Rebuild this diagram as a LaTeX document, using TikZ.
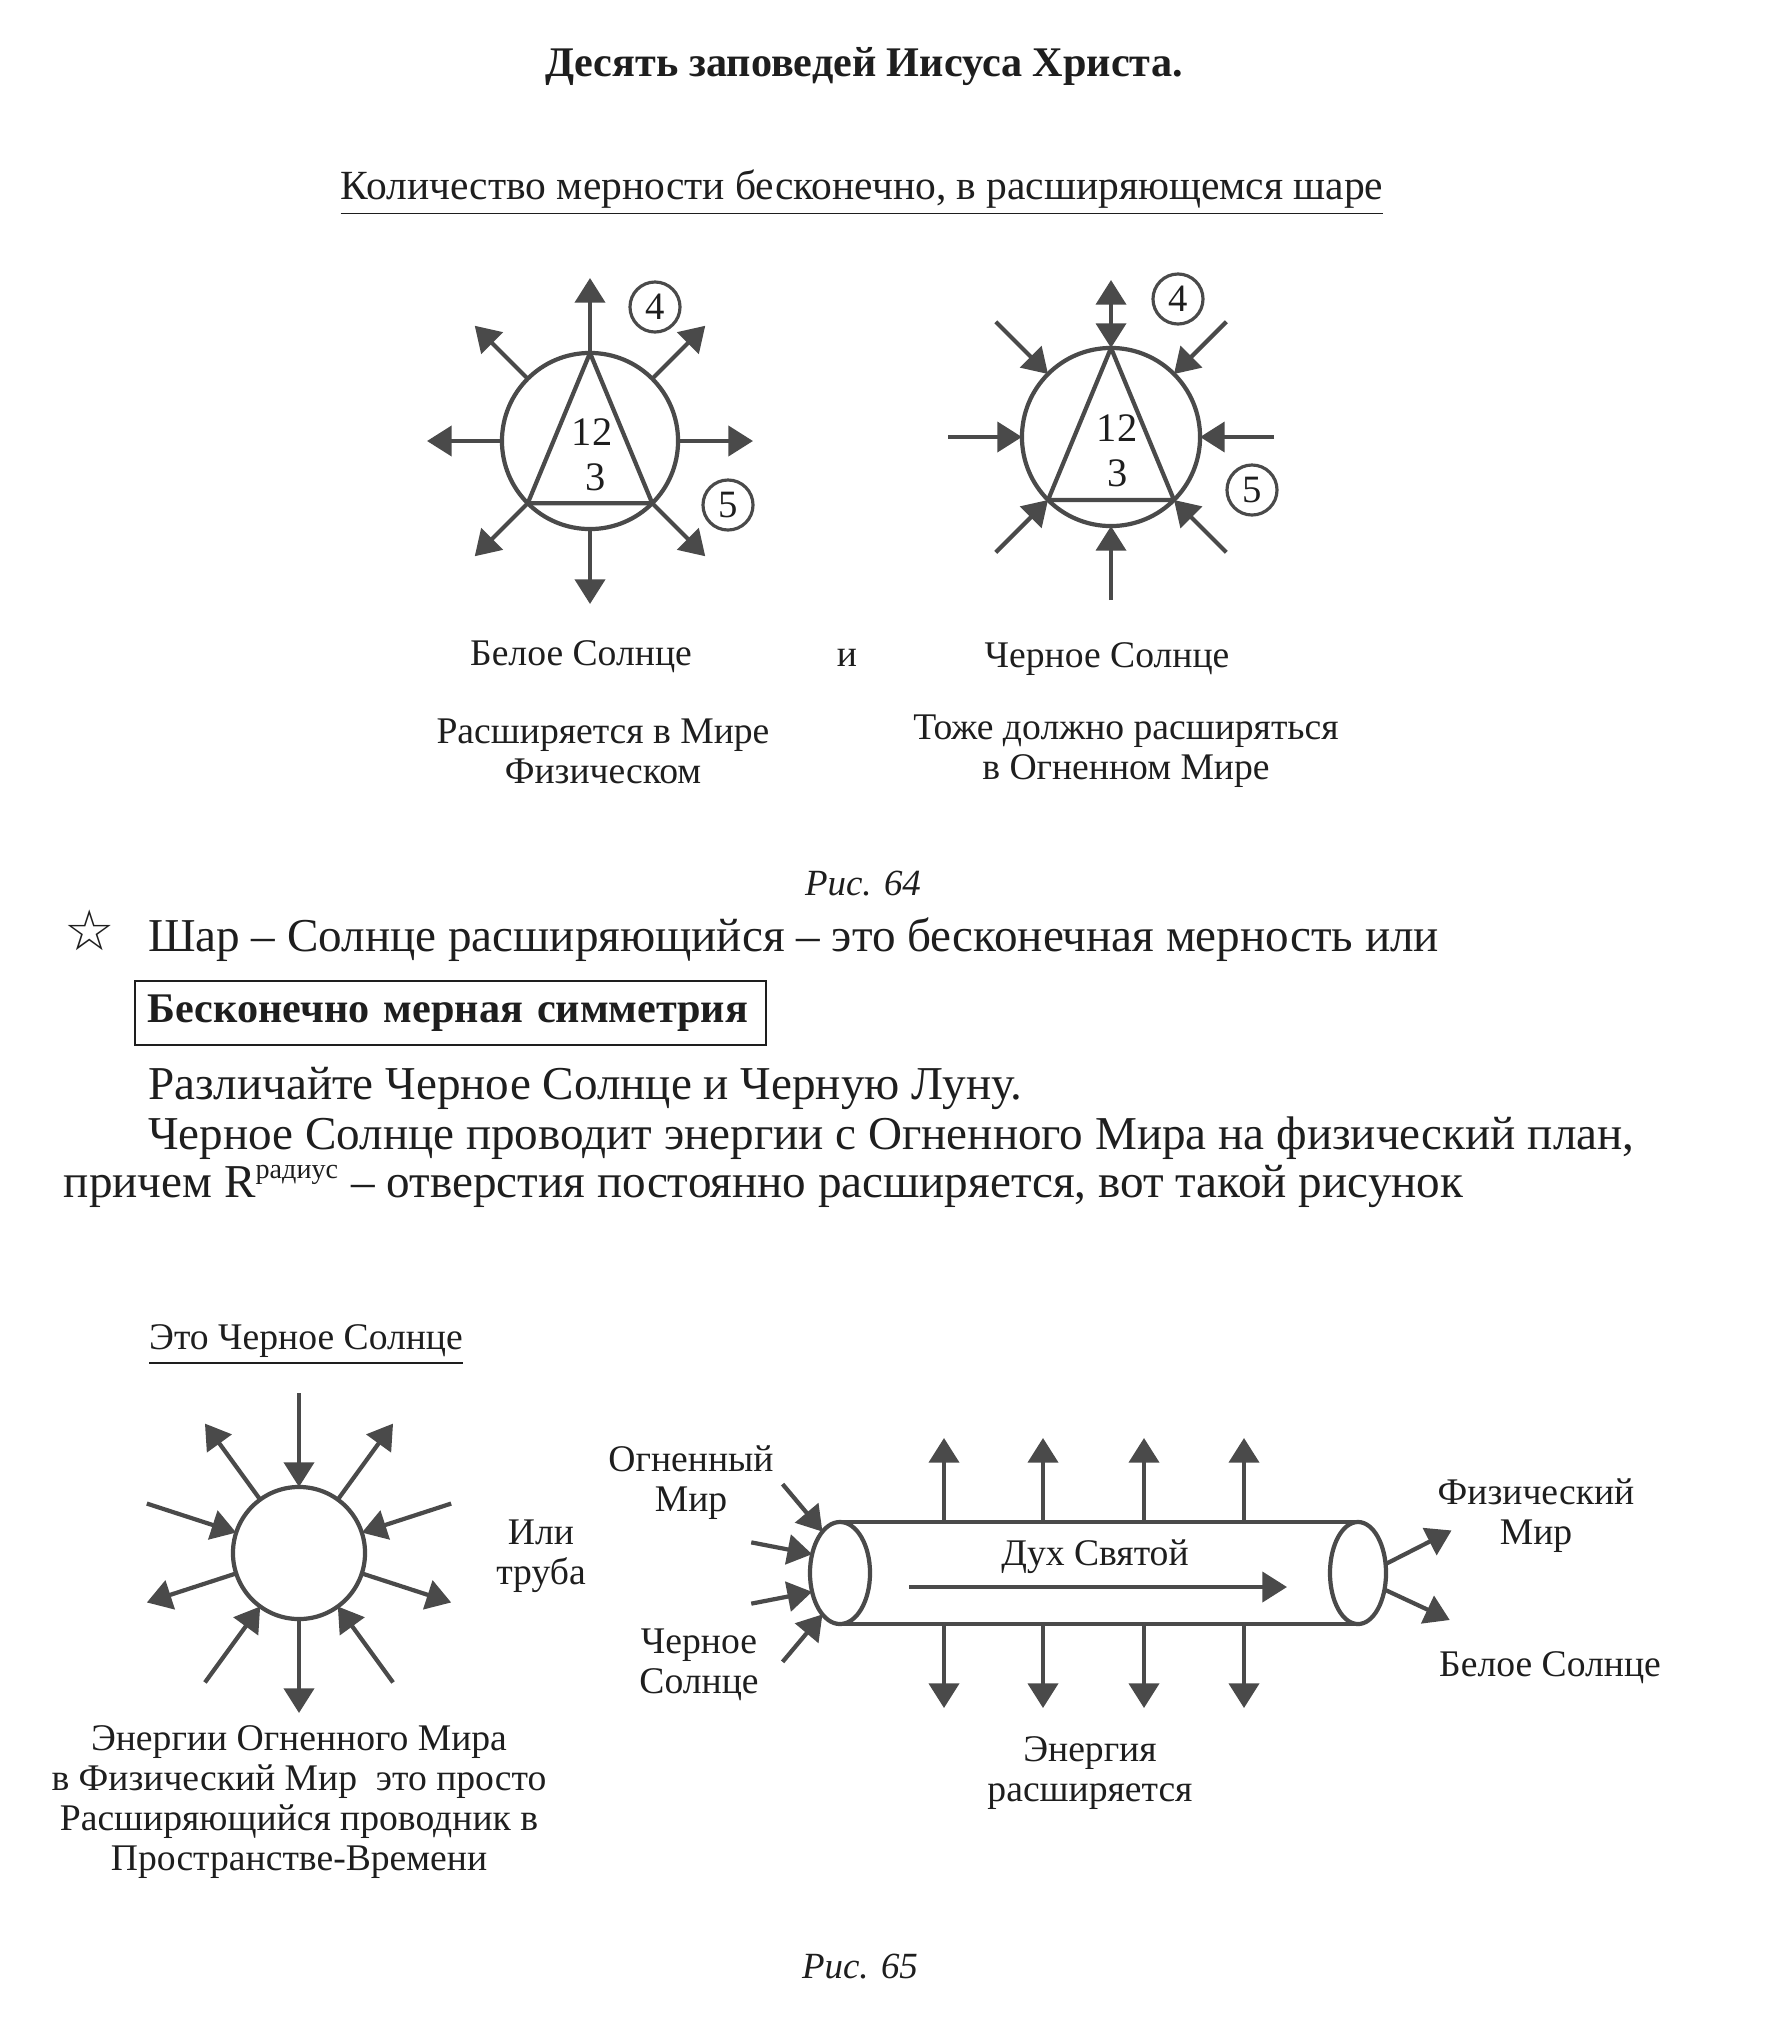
\documentclass[tikz,border=0pt]{standalone}
\usepackage{fontspec}
\setmainfont{Liberation Serif}
\newfontfamily\symfont{DejaVu Sans}
\usetikzlibrary{arrows.meta,positioning,calc,shapes.geometric}
\definecolor{drawgray}{HTML}{4A4A4A}
\definecolor{ink}{HTML}{1E1E1E}

\begin{document}
\begin{tikzpicture}[x=0.01cm, y=0.01cm,
    every node/.style={inner sep=0pt, outer sep=0pt, text=ink},
    lbl/.style={font=\fontsize{10.7}{11.4}\selectfont, align=center},
    body/.style={font=\fontsize{13.4}{15}\selectfont, anchor=west},
    sun/.style={circle, draw=drawgray, line width=1.2pt},
    num/.style={circle, draw=drawgray, line width=0.9pt, minimum size=0.5cm,
                font=\fontsize{11}{11}\selectfont},
    ray/.style={-{Triangle[length=7pt,width=8.5pt]}, line width=1.2pt, drawgray},
    rayboth/.style={{Triangle[length=7pt,width=8.5pt]}-{Triangle[length=7pt,width=8.5pt]},
                    line width=1.2pt, drawgray},
    tri/.style={line width=1.2pt, drawgray, line join=round},
    tubeend/.style={ellipse, draw=drawgray, line width=1.2pt,
                    minimum width=0.6cm, minimum height=1.02cm}
  ]
  \fill[white] (0,0) rectangle (1783,-2018);
  \useasboundingbox (0,0) rectangle (1783,-2018);

  % headings
  \node[font=\bfseries\fontsize{12}{14}\selectfont] (title) at (864,-67)
    {Десять заповедей Иисуса Христа.};
  \node[font=\fontsize{11.8}{14}\selectfont] (subtitle) at (862,-193)
    {\underline{Количество мерности бесконечно, в расширяющемся шаре}};

  % white sun, rays going out
  \node[sun, minimum size=1.76cm] (wsun) at (590,-441) {};
  \draw[tri] (wsun.90) -- (wsun.225) -- (wsun.315) -- cycle;
  \foreach \a in {90,45,0,-45,-90,-135,180,135}
    \draw[ray] (wsun.\a) -- ($(wsun.center)+(\a:163)$);
  \node[lbl, font=\fontsize{11.5}{12}\selectfont] (wtwelve) at (592,-432) {12};
  \node[lbl, font=\fontsize{11.5}{12}\selectfont] (wthree) at (596,-477) {3};
  \node[num] (wfour) at (655,-307) {4};
  \node[num] (wfive) at (728,-505) {5};

  % black sun, rays coming in
  \node[sun, minimum size=1.78cm] (bsun) at (1111,-437) {};
  \draw[tri] (bsun.90) -- (bsun.225) -- (bsun.315) -- cycle;
  \foreach \a in {135,45,180,0,225,315,270}
    \draw[ray] ($(bsun.center)+(\a:163)$) -- (bsun.\a);
  \draw[rayboth] ($(bsun.center)+(90:157)$) -- (bsun.90);
  \node[lbl, font=\fontsize{11.5}{12}\selectfont] (btwelve) at (1117,-428) {12};
  \node[lbl, font=\fontsize{11.5}{12}\selectfont] (bthree) at (1118,-473) {3};
  \node[num] (bfour) at (1178,-299) {4};
  \node[num] (bfive) at (1252,-490) {5};

  \node[lbl] (wname) at (581,-657) {Белое Солнце};
  \node[lbl] (andw) at (847,-658) {и};
  \node[lbl] (bname) at (1107,-659) {Черное Солнце};
  \node[lbl] (wnote) at (603,-751) {Расширяется в Мире\\Физическом};
  \node[lbl] (bnote) at (1126,-751) {Тоже должно расширяться\\в Огненном Мире};
  \node[lbl, font=\itshape\fontsize{10.5}{12}\selectfont] (fig64) at (863,-884) {Рис. 64};

  % text block
  \node[font=\symfont\fontsize{16}{16}\selectfont] (star) at (90,-930) {☆};
  \node[body] (lineA) at (148,-940)
    {Шар – Солнце расширяющийся – это бесконечная мерность или};
  \node[draw=ink, line width=0.6pt, font=\bfseries\fontsize{12}{14}\selectfont,
        text width=6.05cm, inner xsep=0.13cm, minimum height=0.64cm, align=left]
    (symbox) at (450.5,-1013) {Бесконечно мерная симметрия};
  \node[body] (lineB) at (148,-1088) {Различайте Черное Солнце и Черную Луну.};
  \node[body] (lineC) at (148,-1138)
    {Черное Солнце проводит энергии с Огненного Мира на физический план,};
  \node[body] (lineD) at (64,-1186)
    {причем R\textsuperscript{\fontsize{8}{8}\selectfont радиус} – отверстия постоянно расширяется, вот такой рисунок};

  % expanding black sun
  \node[lbl] (esname) at (306,-1345) {\underline{Это Черное Солнце}};
  \node[sun, minimum size=1.32cm] (esun) at (299,-1553) {};
  \foreach \a in {90,18,-54,-126,162}
    \draw[ray] ($(esun.center)+(\a:160)$) -- (esun.\a);
  \foreach \a in {54,-18,-90,-162,126}
    \draw[ray] (esun.\a) -- ($(esun.center)+(\a:160)$);
  \node[lbl] (ortube) at (541,-1556) {Или\\труба};
  \node[lbl] (esnote) at (299,-1802)
    {Энергии Огненного Мира\\в Физический Мир\ \ это просто\\Расширяющийся проводник в\\Пространстве-Времени};

  % tube
  \node[tubeend] (tl) at (840,-1573) {};
  \node[tubeend, minimum width=0.56cm] (tr) at (1358,-1573) {};
  \draw[tri] (tl.north) -- (tr.north);
  \draw[tri] (tl.south) -- (tr.south);
  \foreach \x in {944,1043,1144,1244} {
    \draw[ray] (\x,0 |- tl.north) -- ++(0,84);
    \draw[ray] (\x,0 |- tl.south) -- ++(0,-84);
  }
  \draw[ray] (909,-1587) -- (1287,-1587);
  \node[lbl] (spirit) at (1095,-1557) {Дух Святой};
  \draw[ray] ($(tl.113)+(130:62)$) -- (tl.113);
  \draw[ray] ($(tl.146)+(169:62)$) -- (tl.146);
  \draw[ray] ($(tl.214)+(191:62)$) -- (tl.214);
  \draw[ray] ($(tl.247)+(230:62)$) -- (tl.247);
  \draw[ray] (tr.18) -- ++(27:74);
  \draw[ray] (tr.-32) -- ++(-25:72);
  \node[lbl] (fireworld) at (691,-1483) {Огненный\\Мир};
  \node[lbl] (blacksun) at (699,-1665) {Черное\\Солнце};
  \node[lbl] (physworld) at (1536,-1516) {Физический\\Мир};
  \node[lbl] (whitesun) at (1550,-1668) {Белое Солнце};
  \node[lbl] (energy) at (1090,-1773) {Энергия\\расширяется};
  \node[lbl, font=\itshape\fontsize{10.5}{12}\selectfont] (fig65) at (860,-1967) {Рис. 65};
\end{tikzpicture}
\end{document}
